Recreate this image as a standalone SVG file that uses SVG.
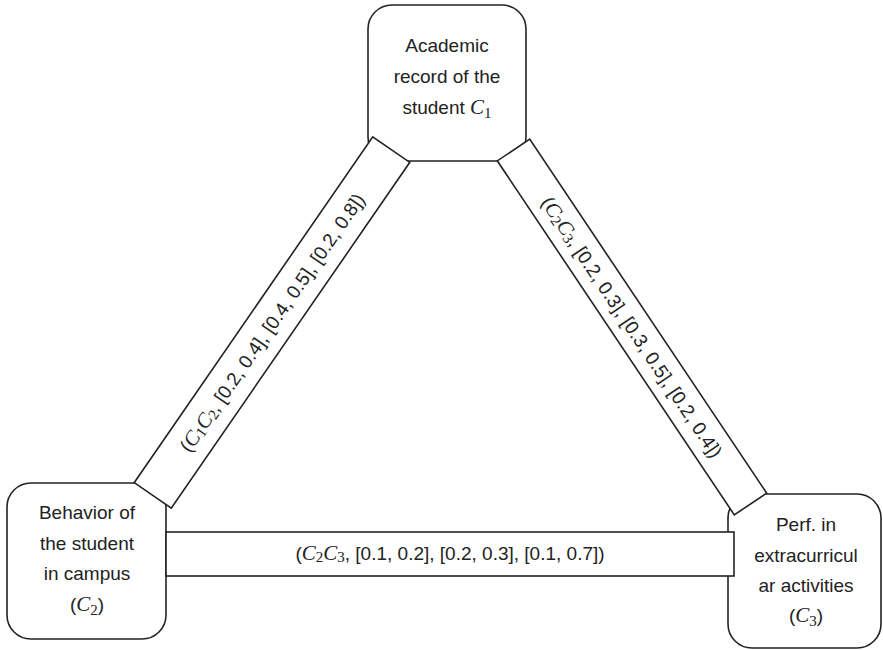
<svg xmlns="http://www.w3.org/2000/svg" width="883" height="650" viewBox="0 0 883 650">
<style>
.box{fill:#fff;stroke:#222;stroke-width:1.6}
.t{font-family:"Liberation Sans",Arial,sans-serif;font-size:19px;fill:#222;text-anchor:middle}
.e{font-family:"Liberation Sans",Arial,sans-serif;font-size:19px;fill:#222;text-anchor:middle;dominant-baseline:central}
.m{font-family:"Liberation Serif","Times New Roman",serif;font-style:italic;font-size:21px}
.s{font-family:"Liberation Serif","Times New Roman",serif;font-style:normal;font-size:15px}
</style>
<rect width="883" height="650" fill="#fff"/>
<g id="node-c1">
<rect class="box" x="368" y="5" width="158" height="156" rx="24"/>
<text class="t" x="447" y="52">Academic</text>
<text class="t" x="447" y="83">record of the</text>
<text class="t" x="447" y="114">student <tspan class="m">C</tspan><tspan class="s" dy="4">1</tspan></text>
</g>
<g id="node-c2">
<rect class="box" x="7" y="483" width="159" height="156" rx="24"/>
<text class="t" x="87" y="519">Behavior of</text>
<text class="t" x="87" y="550">the student</text>
<text class="t" x="87" y="580">in campus</text>
<text class="t" x="87" y="611">(<tspan class="m">C</tspan><tspan class="s" dy="4">2</tspan><tspan dy="-4">)</tspan></text>
</g>
<g id="node-c3">
<rect class="box" x="728" y="494" width="153" height="154" rx="24"/>
<text class="t" x="806" y="531">Perf. in</text>
<text class="t" x="806" y="562">extracurricul</text>
<text class="t" x="806" y="592">ar activities</text>
<text class="t" x="806" y="622">(<tspan class="m">C</tspan><tspan class="s" dy="4">3</tspan><tspan dy="-4">)</tspan></text>
</g>
<g id="connectors">
<g transform="translate(272,322.5) rotate(-55.4)">
<rect class="box" x="-210" y="-22.5" width="420" height="45"/>
<text class="e" x="0" y="0">(<tspan class="m">C</tspan><tspan class="s" dy="4">1</tspan><tspan class="m" dy="-4">C</tspan><tspan class="s" dy="4">2</tspan><tspan dy="-4">, [0.2, 0.4], [0.4, 0.5], [0.2, 0.8])</tspan></text>
</g>
<g transform="translate(632,327) rotate(56.2)">
<rect class="box" x="-213" y="-19.5" width="426" height="39"/>
<text class="e" x="0" y="0">(<tspan class="m">C</tspan><tspan class="s" dy="4">2</tspan><tspan class="m" dy="-4">C</tspan><tspan class="s" dy="4">3</tspan><tspan dy="-4">, [0.2, 0.3], [0.3, 0.5], [0.2, 0.4])</tspan></text>
</g>
<rect class="box" x="166" y="532" width="568" height="44"/>
<text class="e" x="450" y="553">(<tspan class="m">C</tspan><tspan class="s" dy="4">2</tspan><tspan class="m" dy="-4">C</tspan><tspan class="s" dy="4">3</tspan><tspan dy="-4">, [0.1, 0.2], [0.2, 0.3], [0.1, 0.7])</tspan></text>
</g>
</svg>
